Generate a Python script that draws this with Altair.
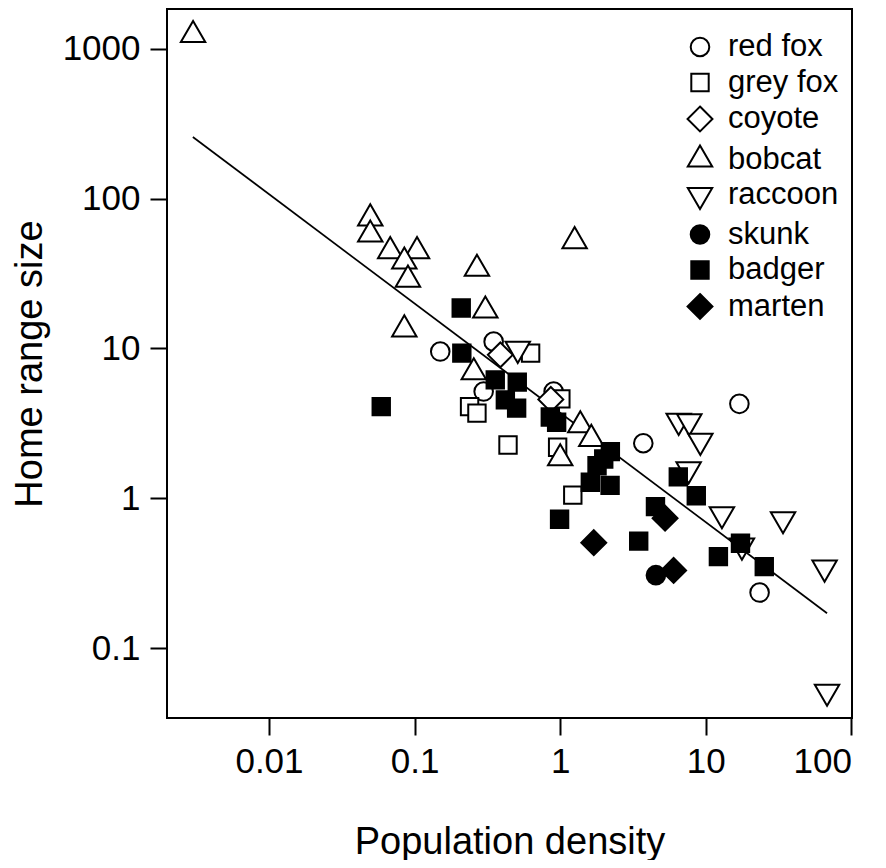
import altair as alt
import pandas as pd

species = ["red fox", "grey fox", "coyote", "bobcat", "raccoon", "skunk", "badger", "marten"]

red_fox_x = [0.150, 0.349, 0.298, 0.901, 3.72, 17.0, 23.4]
red_fox_y = [9.54, 11.1, 5.16, 5.16, 2.33, 4.27, 0.235]
grey_fox_x = [0.626, 0.2385, 0.268, 0.438, 1.01, 0.96, 1.22]
grey_fox_y = [9.30, 4.09, 3.70, 2.27, 4.61, 2.19, 1.05]
coyote_x = [0.388, 0.862]
coyote_y = [9.06, 4.57]
bobcat_x = [0.00301, 0.0496, 0.0496, 0.068, 0.1039, 0.085, 0.090, 0.085, 0.268, 0.306, 0.255, 1.256, 1.374, 1.635, 1.0]
bobcat_y = [1235, 73.7, 57.6, 44.6, 44.6, 38.0, 28.8, 13.4, 34.0, 17.9, 6.93, 52.0, 3.07, 2.49, 1.85]
raccoon_x = [0.511, 6.51, 7.70, 9.17, 7.62, 12.9, 33.9, 17.7, 65.4, 68.0]
raccoon_y = [9.94, 3.29, 3.26, 2.42, 1.56, 0.783, 0.725, 0.483, 0.345, 0.0512]
skunk_x = [4.54]
skunk_y = [0.307]
badger_x = [0.209, 0.211, 0.059, 0.358, 0.507, 0.420, 0.502, 0.855, 0.945, 2.21, 1.99,
            1.79, 1.61, 2.20, 0.99, 3.46, 4.51, 6.47, 8.60, 17.3, 12.2, 25.2]
badger_y = [18.6, 9.30, 4.09, 6.17, 5.96, 4.54, 4.00, 3.49, 3.22, 2.05, 1.83,
            1.65, 1.28, 1.22, 0.725, 0.518, 0.880, 1.39, 1.04, 0.501, 0.408, 0.350]
marten_x = [1.70, 5.25, 6.01]
marten_y = [0.506, 0.737, 0.330]

# fitted regression line (log-log), end points
fit_x = [0.003, 68.0]
fit_y = [257.5, 0.171]

x_ticks = [0.01, 0.1, 1, 10, 100]
y_ticks = [0.1, 1, 10, 100, 1000]

series = [
    ("red fox", red_fox_x, red_fox_y),
    ("grey fox", grey_fox_x, grey_fox_y),
    ("coyote", coyote_x, coyote_y),
    ("bobcat", bobcat_x, bobcat_y),
    ("raccoon", raccoon_x, raccoon_y),
    ("skunk", skunk_x, skunk_y),
    ("badger", badger_x, badger_y),
    ("marten", marten_x, marten_y),
]
rows = []
for name, xs, ys in series:
    for xv, yv in zip(xs, ys):
        rows.append({"density": xv, "home_range": yv, "species": name})
df = pd.DataFrame(rows)
fit_df = pd.DataFrame({"density": fit_x, "home_range": fit_y})

circle_p = "M0.62,0A0.62,0.62 0 1,1 -0.62,0A0.62,0.62 0 1,1 0.62,0Z"
square_p = "M-0.58,-0.58L0.58,-0.58L0.58,0.58L-0.58,0.58Z"
diamond_p = "M0,-0.83L0.83,0L0,0.83L-0.83,0Z"
tri_up_p = "M0,-0.94L0.814,0.47L-0.814,0.47Z"
tri_dn_p = "M0,0.94L0.814,-0.47L-0.814,-0.47Z"
shape_range = [circle_p, square_p, diamond_p, tri_up_p, tri_dn_p, circle_p, square_p, diamond_p]
fill_range = ["white"] * 5 + ["black"] * 3
stroke_range = ["black"] * 8

FONT = "Liberation Sans"

xscale = alt.Scale(type="log", domain=[0.001993, 100.9], nice=False)
yscale = alt.Scale(type="log", domain=[0.0342, 1841], nice=False)

legend = alt.Legend(
    title=None, orient="none", legendX=517, legendY=22,
    labelFontSize=31, labelFont=FONT, labelColor="black",
    symbolSize=900, symbolStrokeWidth=2, symbolStrokeColor="black",
    labelOffset=12, rowPadding=4.5, padding=0,
)

xaxis = alt.Axis(values=x_ticks, format="~g", title="Population density",
                 titlePadding=44)
yaxis = alt.Axis(values=y_ticks, format="~g", title="Home range size",
                 titlePadding=13)

line = alt.Chart(fit_df).mark_line(color="black", strokeWidth=1.7).encode(
    x=alt.X("density:Q", scale=xscale, axis=xaxis),
    y=alt.Y("home_range:Q", scale=yscale, axis=yaxis),
)

points = alt.Chart(df).mark_point(
    filled=True, strokeWidth=2, size=900, opacity=1, strokeOpacity=1, fillOpacity=1
).encode(
    x=alt.X("density:Q", scale=xscale, axis=xaxis),
    y=alt.Y("home_range:Q", scale=yscale, axis=yaxis),
    shape=alt.Shape("species:N", scale=alt.Scale(domain=species, range=shape_range), legend=legend),
    fill=alt.Fill("species:N", scale=alt.Scale(domain=species, range=fill_range), legend=legend),
    stroke=alt.Stroke("species:N", scale=alt.Scale(domain=species, range=stroke_range), legend=legend),
)

chart = alt.layer(line, points).properties(
    width=685, height=709,
    padding={"left": 159, "top": 1, "right": 26, "bottom": 142},
    autosize=alt.AutoSizeParams(type="none"),
).configure_view(
    stroke="black", strokeWidth=2
).configure_axis(
    domain=False, grid=False,
    tickColor="black", tickWidth=2, tickSize=17,
    labelFont=FONT, labelFontSize=35, labelColor="black", labelPadding=9,
    titleFont=FONT, titleFontSize=38, titleFontWeight="normal", titleColor="black",
).configure_axisY(labelPadding=10)

chart.save("out.html", embed_options={"renderer": "svg", "actions": False})
